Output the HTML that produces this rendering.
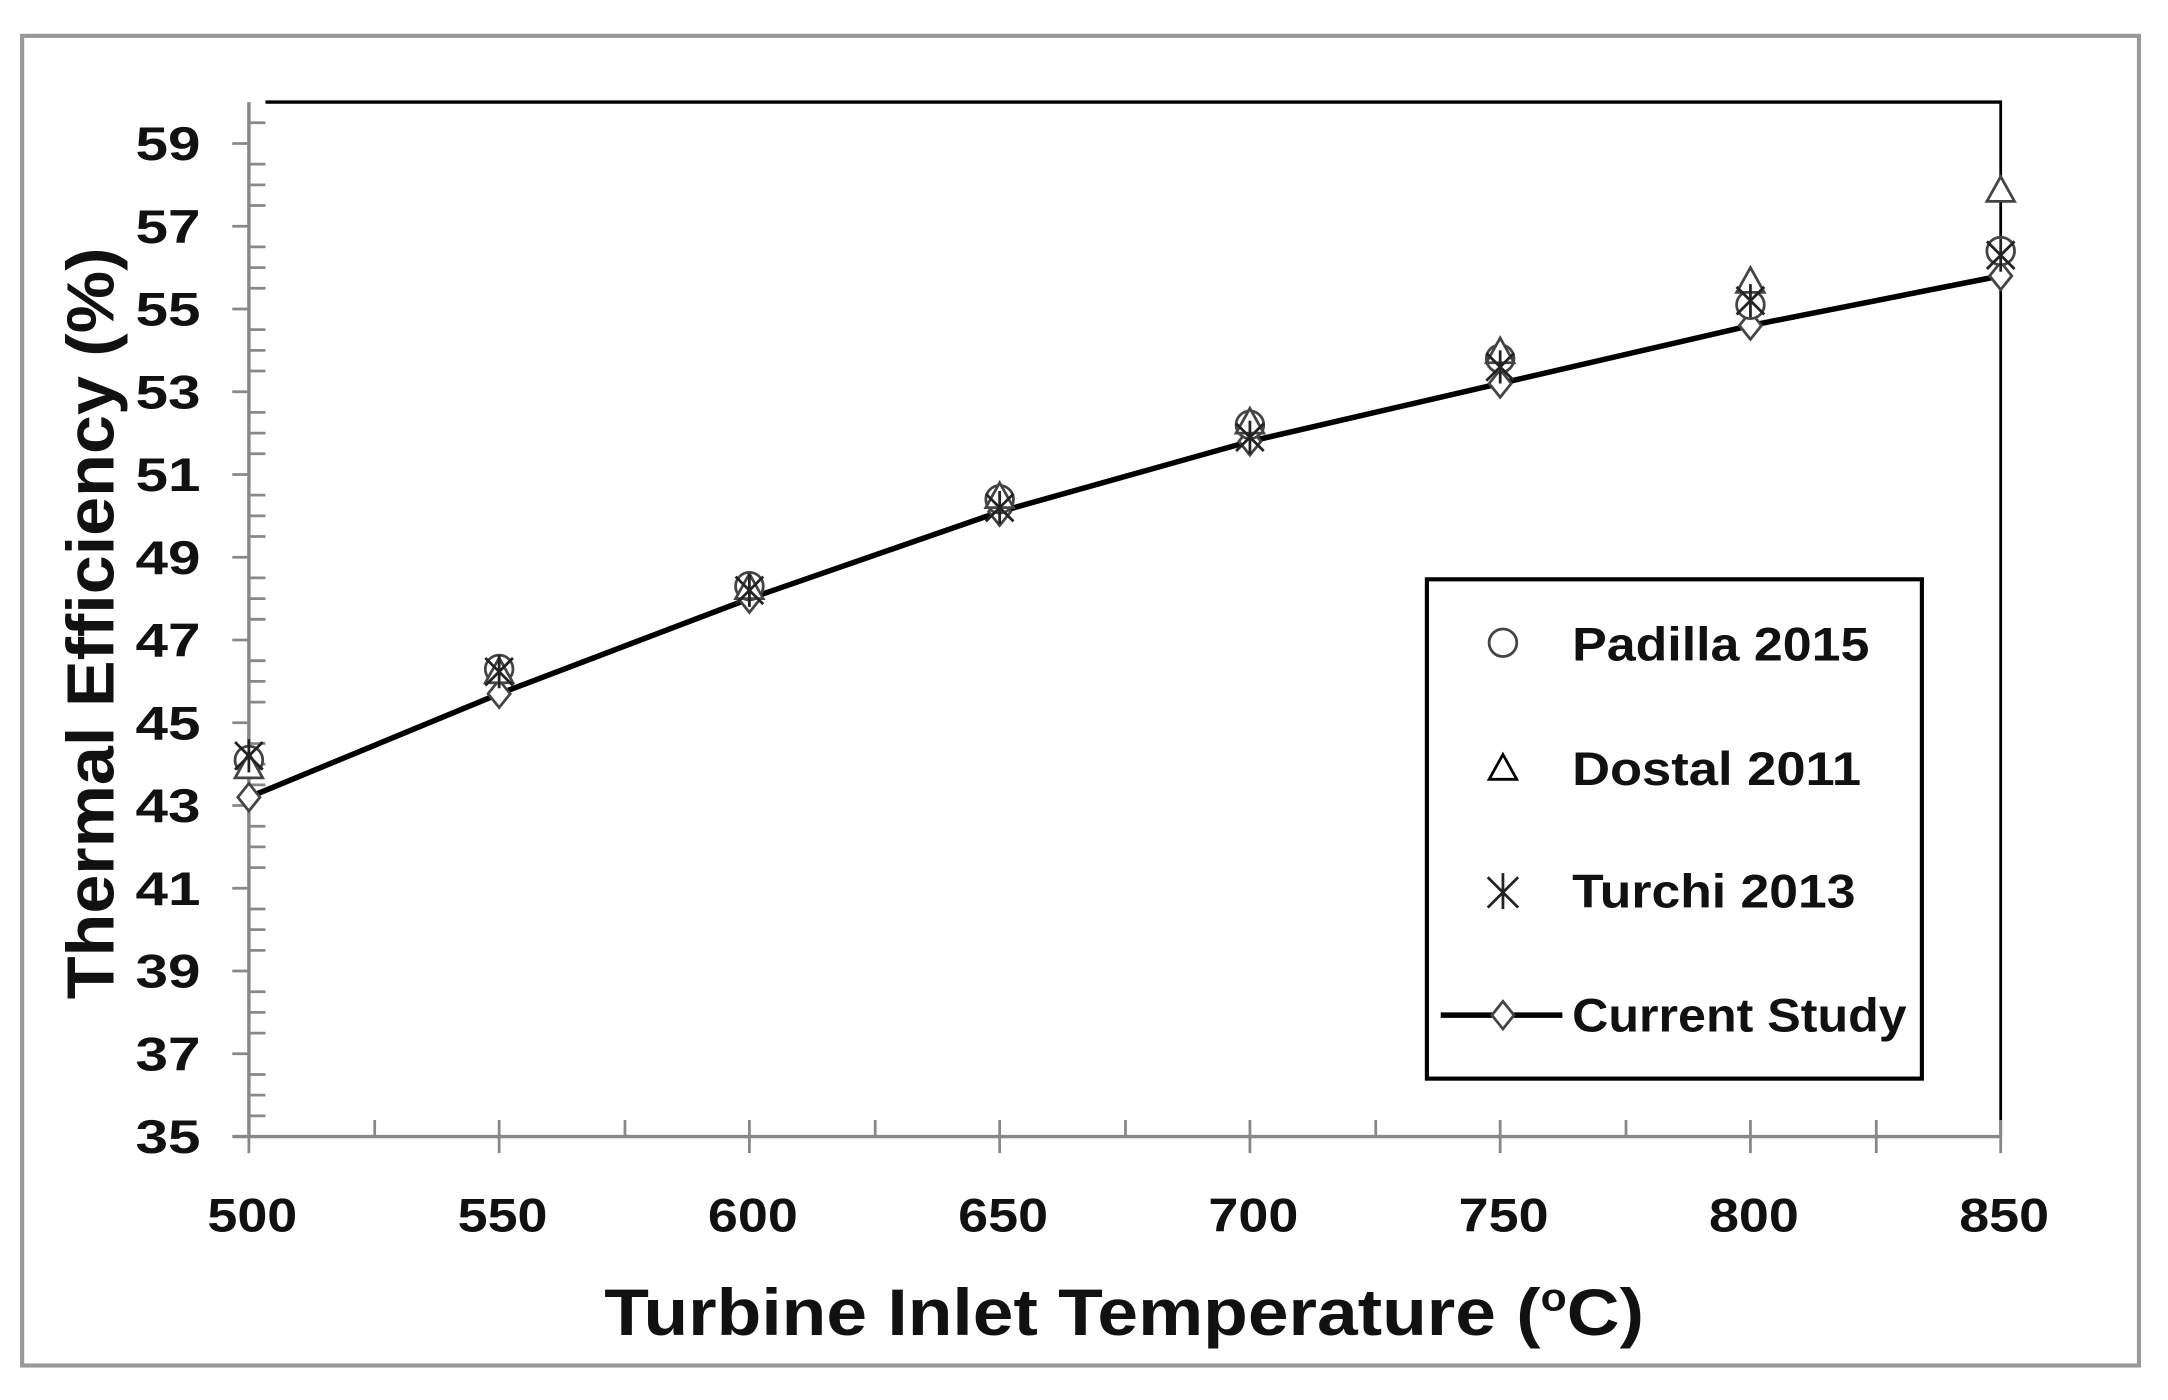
<!DOCTYPE html>
<html><head><style>html,body{margin:0;padding:0;background:#fff;}svg{display:block}</style></head>
<body>
<svg width="2168" height="1400" viewBox="0 0 1568 1015" preserveAspectRatio="none" xmlns="http://www.w3.org/2000/svg" font-family="'Liberation Sans', sans-serif" font-weight="bold">
<rect x="16" y="26" width="1531" height="964" fill="#fff" stroke="#999" stroke-width="3"/>
<line x1="192" y1="74" x2="1448" y2="74" stroke="#000" stroke-width="2.5"/>
<line x1="1447" y1="74" x2="1447" y2="824" stroke="#000" stroke-width="2"/>
<line x1="180" y1="74" x2="180" y2="824" stroke="#888" stroke-width="2.5"/>
<line x1="168" y1="824" x2="1447" y2="824" stroke="#888" stroke-width="2.5"/>
<g stroke="#888" stroke-width="2">
<line x1="168" y1="104" x2="180" y2="104"/><line x1="168" y1="164" x2="180" y2="164"/><line x1="168" y1="224" x2="180" y2="224"/><line x1="168" y1="284" x2="180" y2="284"/><line x1="168" y1="344" x2="180" y2="344"/><line x1="168" y1="404" x2="180" y2="404"/><line x1="168" y1="464" x2="180" y2="464"/><line x1="168" y1="524" x2="180" y2="524"/><line x1="168" y1="584" x2="180" y2="584"/><line x1="168" y1="644" x2="180" y2="644"/><line x1="168" y1="704" x2="180" y2="704"/><line x1="168" y1="764" x2="180" y2="764"/>
<line x1="180" y1="89" x2="192" y2="89"/><line x1="180" y1="119" x2="192" y2="119"/><line x1="180" y1="134" x2="192" y2="134"/><line x1="180" y1="149" x2="192" y2="149"/><line x1="180" y1="179" x2="192" y2="179"/><line x1="180" y1="194" x2="192" y2="194"/><line x1="180" y1="209" x2="192" y2="209"/><line x1="180" y1="239" x2="192" y2="239"/><line x1="180" y1="254" x2="192" y2="254"/><line x1="180" y1="269" x2="192" y2="269"/><line x1="180" y1="299" x2="192" y2="299"/><line x1="180" y1="314" x2="192" y2="314"/><line x1="180" y1="329" x2="192" y2="329"/><line x1="180" y1="359" x2="192" y2="359"/><line x1="180" y1="374" x2="192" y2="374"/><line x1="180" y1="389" x2="192" y2="389"/><line x1="180" y1="419" x2="192" y2="419"/><line x1="180" y1="434" x2="192" y2="434"/><line x1="180" y1="449" x2="192" y2="449"/><line x1="180" y1="479" x2="192" y2="479"/><line x1="180" y1="494" x2="192" y2="494"/><line x1="180" y1="509" x2="192" y2="509"/><line x1="180" y1="539" x2="192" y2="539"/><line x1="180" y1="554" x2="192" y2="554"/><line x1="180" y1="569" x2="192" y2="569"/><line x1="180" y1="599" x2="192" y2="599"/><line x1="180" y1="614" x2="192" y2="614"/><line x1="180" y1="629" x2="192" y2="629"/><line x1="180" y1="659" x2="192" y2="659"/><line x1="180" y1="674" x2="192" y2="674"/><line x1="180" y1="689" x2="192" y2="689"/><line x1="180" y1="719" x2="192" y2="719"/><line x1="180" y1="734" x2="192" y2="734"/><line x1="180" y1="749" x2="192" y2="749"/><line x1="180" y1="779" x2="192" y2="779"/><line x1="180" y1="794" x2="192" y2="794"/><line x1="180" y1="809" x2="192" y2="809"/>
<line x1="180" y1="812" x2="180" y2="836"/><line x1="271" y1="812" x2="271" y2="824"/><line x1="361" y1="812" x2="361" y2="836"/><line x1="452" y1="812" x2="452" y2="824"/><line x1="542" y1="812" x2="542" y2="836"/><line x1="633" y1="812" x2="633" y2="824"/><line x1="723" y1="812" x2="723" y2="836"/><line x1="814" y1="812" x2="814" y2="824"/><line x1="904" y1="812" x2="904" y2="836"/><line x1="995" y1="812" x2="995" y2="824"/><line x1="1085" y1="812" x2="1085" y2="836"/><line x1="1176" y1="812" x2="1176" y2="824"/><line x1="1266" y1="812" x2="1266" y2="836"/><line x1="1357" y1="812" x2="1357" y2="836"/><line x1="1447" y1="812" x2="1447" y2="836"/>
</g>
<g font-size="34" fill="#111">
<text x="98" y="116" textLength="47" lengthAdjust="spacingAndGlyphs">59</text><text x="98" y="176" textLength="47" lengthAdjust="spacingAndGlyphs">57</text><text x="98" y="236" textLength="47" lengthAdjust="spacingAndGlyphs">55</text><text x="98" y="296" textLength="47" lengthAdjust="spacingAndGlyphs">53</text><text x="98" y="356" textLength="47" lengthAdjust="spacingAndGlyphs">51</text><text x="98" y="416" textLength="47" lengthAdjust="spacingAndGlyphs">49</text><text x="98" y="476" textLength="47" lengthAdjust="spacingAndGlyphs">47</text><text x="98" y="536" textLength="47" lengthAdjust="spacingAndGlyphs">45</text><text x="98" y="596" textLength="47" lengthAdjust="spacingAndGlyphs">43</text><text x="98" y="656" textLength="47" lengthAdjust="spacingAndGlyphs">41</text><text x="98" y="716" textLength="47" lengthAdjust="spacingAndGlyphs">39</text><text x="98" y="776" textLength="47" lengthAdjust="spacingAndGlyphs">37</text><text x="98" y="836" textLength="47" lengthAdjust="spacingAndGlyphs">35</text>
</g>
<g font-size="34" fill="#111">
<text x="150" y="893" textLength="65" lengthAdjust="spacingAndGlyphs">500</text><text x="331" y="893" textLength="65" lengthAdjust="spacingAndGlyphs">550</text><text x="512" y="893" textLength="65" lengthAdjust="spacingAndGlyphs">600</text><text x="693" y="893" textLength="65" lengthAdjust="spacingAndGlyphs">650</text><text x="874" y="893" textLength="65" lengthAdjust="spacingAndGlyphs">700</text><text x="1055" y="893" textLength="65" lengthAdjust="spacingAndGlyphs">750</text><text x="1236" y="893" textLength="65" lengthAdjust="spacingAndGlyphs">800</text><text x="1417" y="893" textLength="65" lengthAdjust="spacingAndGlyphs">850</text>
</g>
<text x="437" y="968" font-size="48" fill="#111" textLength="752" lengthAdjust="spacingAndGlyphs">Turbine Inlet Temperature (<tspan font-size="28" dy="-18">o</tspan><tspan dy="18">C)</tspan></text>
<text transform="translate(82,452) rotate(-90)" font-size="48" text-anchor="middle" fill="#111" textLength="545" lengthAdjust="spacingAndGlyphs">Thermal Efficiency (%)</text>
<polyline fill="none" stroke="#000" stroke-width="4" points="180,578 361,503 542,434 723,371 904,320 1085,278 1266,236 1447,200"/>
<g fill="#fff" stroke="#444" stroke-width="2">
<path d="M180,568 l8,10 l-8,10 l-8,-10z"/><path d="M361,493 l8,10 l-8,10 l-8,-10z"/><path d="M542,424 l8,10 l-8,10 l-8,-10z"/><path d="M723,361 l8,10 l-8,10 l-8,-10z"/><path d="M904,310 l8,10 l-8,10 l-8,-10z"/><path d="M1085,268 l8,10 l-8,10 l-8,-10z"/><path d="M1266,226 l8,10 l-8,10 l-8,-10z"/><path d="M1447,190 l8,10 l-8,10 l-8,-10z"/>
<circle cx="180" cy="551" r="10"/><circle cx="361" cy="485" r="10"/><circle cx="542" cy="425" r="10"/><circle cx="723" cy="362" r="10"/><circle cx="904" cy="308" r="10"/><circle cx="1085" cy="260" r="10"/><circle cx="1266" cy="221" r="10"/><circle cx="1447" cy="182" r="10"/>
<path d="M180,546 l10,18 h-20z"/><path d="M361,477 l10,18 h-20z"/><path d="M542,416 l10,18 h-20z"/><path d="M723,350 l10,18 h-20z"/><path d="M904,296 l10,18 h-20z"/><path d="M1085,245 l10,18 h-20z"/><path d="M1266,194 l10,18 h-20z"/><path d="M1447,128 l10,18 h-20z"/>
</g>
<g stroke="#222" stroke-width="2">
<path d="M180,536 v24 M170,538 l20,20 M190,538 l-20,20"/><path d="M361,475 v24 M351,477 l20,20 M371,477 l-20,20"/><path d="M542,416 v24 M532,418 l20,20 M552,418 l-20,20"/><path d="M723,356 v24 M713,358 l20,20 M733,358 l-20,20"/><path d="M904,305 v24 M894,307 l20,20 M914,307 l-20,20"/><path d="M1085,254 v24 M1075,256 l20,20 M1095,256 l-20,20"/><path d="M1266,206 v24 M1256,208 l20,20 M1276,208 l-20,20"/><path d="M1447,173 v24 M1437,175 l20,20 M1457,175 l-20,20"/>
</g>
<rect x="1032" y="420" width="358" height="362" fill="#fff" stroke="#000" stroke-width="3"/>
<g fill="#fff" stroke="#444" stroke-width="2">
<circle cx="1087" cy="466" r="10"/>
<path d="M1087,547 l10,18 h-20z" stroke="#000"/>
</g>
<path d="M1087,633 v26 M1076,636 l22,22 M1098,636 l-22,22" stroke="#222" stroke-width="2"/>
<line x1="1042" y1="736" x2="1130" y2="736" stroke="#000" stroke-width="4"/>
<path d="M1087,726 l8,10 l-8,10 l-8,-10z" fill="#fff" stroke="#444" stroke-width="2"/>
<g font-size="34" fill="#111">
<text x="1137" y="479" textLength="215" lengthAdjust="spacingAndGlyphs">Padilla 2015</text>
<text x="1137" y="569" textLength="209" lengthAdjust="spacingAndGlyphs">Dostal 2011</text>
<text x="1137" y="658" textLength="205" lengthAdjust="spacingAndGlyphs">Turchi 2013</text>
<text x="1137" y="748" textLength="242" lengthAdjust="spacingAndGlyphs">Current Study</text>
</g>
</svg>
</body></html>
